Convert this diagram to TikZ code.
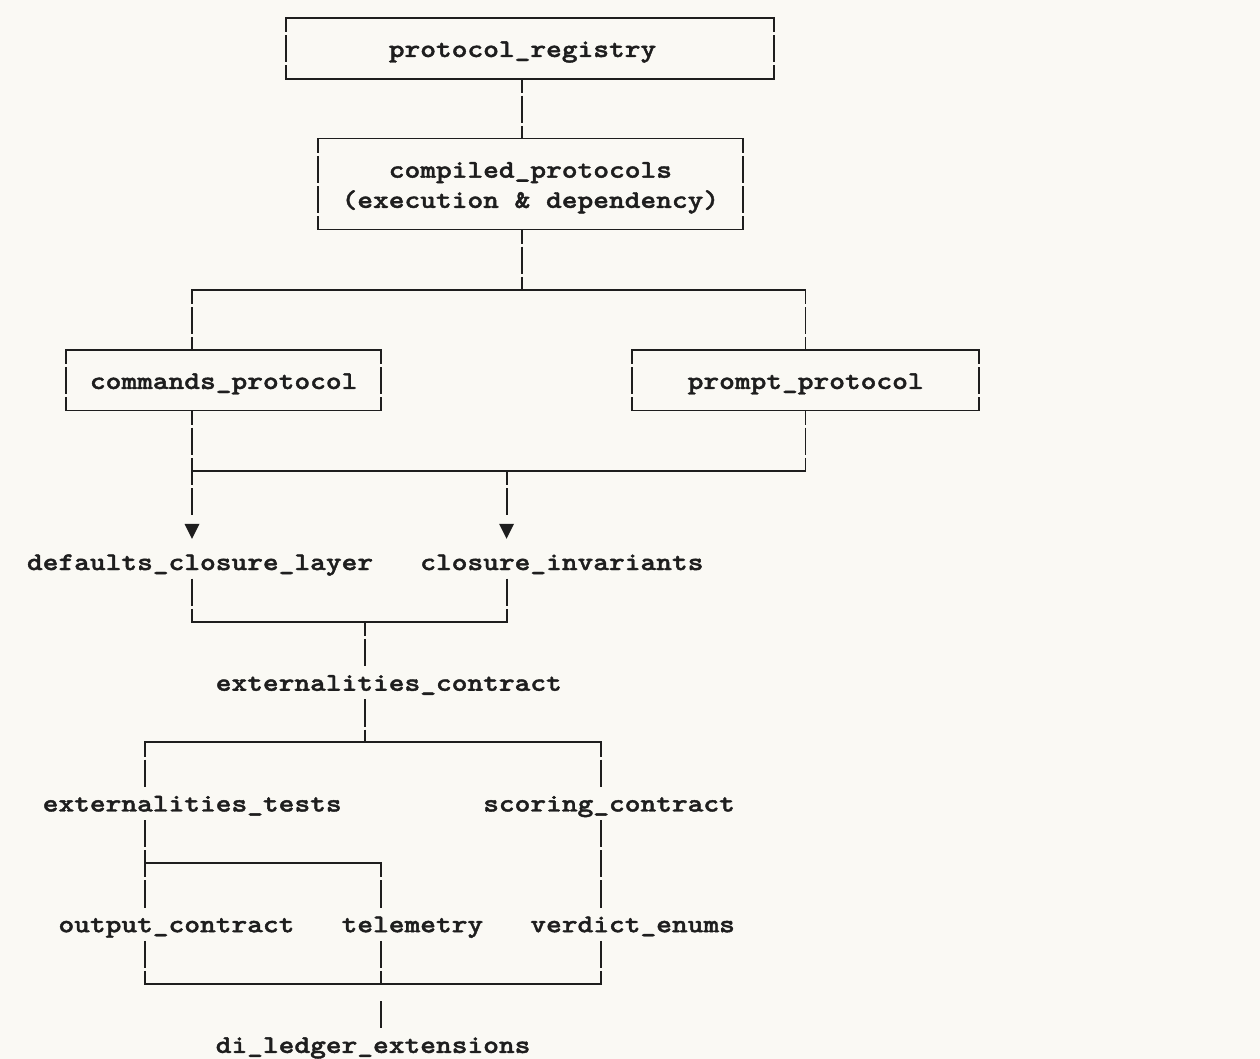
\documentclass[tikz,border=0pt]{standalone}
\usepackage{fontspec}
% slab-serif typewriter face, widened to a 15.73pt character cell
\newfontfamily\gridfont{lmmonolt10-bold.otf}[FakeStretch=1.175, FakeBold=1.6, WordSpace={1,0,0}]
\usetikzlibrary{calc}
\definecolor{paper}{HTML}{FAF9F4}
\definecolor{ink}{HTML}{1E1E1E}
\pgfdeclarelayer{back}
\pgfdeclarelayer{wires}
\pgfsetlayers{back,wires,main}

% character grid: column c, row r (one cell = 15.73 x 30.18)
\tikzset{
  declare function={gx(\c)=18.97+15.73*\c; gl(\c)=11.1+15.73*\c; gy(\r)=18.0+30.18*\r;},
  wire/.style={draw=ink, line width=1.9pt},
  hwire/.style={wire, line cap=rect},
  vwire/.style={wire, dash pattern=on 27.18pt off 3pt, dash phase=12.79pt},
  vwirecell/.style={wire, dash pattern=on 27.18pt off 3pt, dash phase=0pt},
  label/.style={font=\gridfont\fontsize{25.5}{30}\selectfont, text=ink,
    fill=paper, inner sep=0pt, text height=23.89pt, text depth=6.29pt, anchor=west},
  frame/.style={rectangle, inner sep=0pt},
  tipcell/.style={rectangle, fill=paper, inner sep=0pt, minimum width=15.73pt, minimum height=30.18pt},
}

\newcommand\boxoutline[1]{%
  \draw[hwire] (#1.north west) -- (#1.north east);
  \draw[hwire] (#1.south west) -- (#1.south east);
  \draw[vwire] (#1.north west) -- (#1.south west);
  \draw[vwire] (#1.north east) -- (#1.south east);}
\newcommand\tipmark[1]{%
  \fill[ink] ([shift={(-7.5pt,7.3pt)}]#1.center) -- ([shift={(7.5pt,7.3pt)}]#1.center)
    -- ([shift={(0pt,-7.7pt)}]#1.center) -- cycle;}

\begin{document}
\begin{tikzpicture}[x=1pt,y=-1pt]
\begin{pgfonlayer}{back}
  \fill[paper] (0,0) rectangle (1260,1059);
\end{pgfonlayer}
\useasboundingbox (0,0) rectangle (1260,1059);

% boxes
\node[frame, minimum width=487.63pt, minimum height=60.36pt] (b1) at ({(gx(17)+gx(48))/2},{gy(1)}) {};
\node[frame, minimum width=424.71pt, minimum height=90.54pt] (b2) at ({(gx(19)+gx(46))/2},{gy(5.5)}) {};
\node[frame, minimum width=314.60pt, minimum height=60.36pt] (b3) at ({(gx(3)+gx(23))/2},{gy(12)}) {};
\node[frame, minimum width=346.06pt, minimum height=60.36pt] (b4) at ({(gx(39)+gx(61))/2},{gy(12)}) {};

% labels
\node[label] (reg) at ({gl(24)},{gy(1)}) {protocol\_registry};
\node[label] (cp1) at ({gl(24)},{gy(5)}) {compiled\_protocols};
\node[label] (cp2) at ({gl(21)},{gy(6)}) {(execution \& dependency)};
\node[label] (cmd) at ({gl(5)},{gy(12)}) {commands\_protocol};
\node[label] (prm) at ({gl(43)},{gy(12)}) {prompt\_protocol};
\node[label] (dcl) at ({gl(1)},{gy(18)}) {defaults\_closure\_layer};
\node[label] (ci)  at ({gl(26)},{gy(18)}) {closure\_invariants};
\node[label] (ec)  at ({gl(13)},{gy(22)}) {externalities\_contract};
\node[label] (et)  at ({gl(2)},{gy(26)}) {externalities\_tests};
\node[label] (sc)  at ({gl(30)},{gy(26)}) {scoring\_contract};
\node[label] (oc)  at ({gl(3)},{gy(30)}) {output\_contract};
\node[label] (tel) at ({gl(21)},{gy(30)}) {telemetry};
\node[label] (ve)  at ({gl(33)},{gy(30)}) {verdict\_enums};
\node[label] (dl)  at ({gl(13)},{gy(34)}) {di\_ledger\_extensions};

% arrow heads
\node[tipcell] (tip1) at ({gx(11)},{gy(17)}) {};
\node[tipcell] (tip2) at ({gx(31)},{gy(17)}) {};
\tipmark{tip1}
\tipmark{tip2}

% junctions
\coordinate (j2)   at ({gx(32)},{gy(2)});
\coordinate (j4)   at ({gx(32)},{gy(4)});
\coordinate (j7)   at ({gx(32)},{gy(7)});
\coordinate (j9)   at ({gx(32)},{gy(9)});
\coordinate (h9l)  at ({gx(11)},{gy(9)});
\coordinate (h9r)  at ({gx(50)},{gy(9)});
\coordinate (t3)   at ({gx(11)},{gy(11)});
\coordinate (t4)   at ({gx(50)},{gy(11)});
\coordinate (u3)   at ({gx(11)},{gy(13)});
\coordinate (u4)   at ({gx(50)},{gy(13)});
\coordinate (h15l) at ({gx(11)},{gy(15)});
\coordinate (h15m) at ({gx(31)},{gy(15)});
\coordinate (h15r) at ({gx(50)},{gy(15)});
\coordinate (h20l) at ({gx(11)},{gy(20)});
\coordinate (h20m) at ({gx(22)},{gy(20)});
\coordinate (h20r) at ({gx(31)},{gy(20)});
\coordinate (h24l) at ({gx(8)},{gy(24)});
\coordinate (h24m) at ({gx(22)},{gy(24)});
\coordinate (h24r) at ({gx(37)},{gy(24)});
\coordinate (h28l) at ({gx(8)},{gy(28)});
\coordinate (h28r) at ({gx(23)},{gy(28)});
\coordinate (h32l) at ({gx(8)},{gy(32)});
\coordinate (h32m) at ({gx(23)},{gy(32)});
\coordinate (h32r) at ({gx(37)},{gy(32)});
\coordinate (dls)  at ({gx(23)},{gy(32.5)+2.3});

\begin{pgfonlayer}{wires}
  \boxoutline{b1}
  \boxoutline{b2}
  \boxoutline{b3}
  \boxoutline{b4}

  % registry -> compiled -> split
  \draw[vwire] (j2) -- (j4);
  \draw[vwire] (j7) -- (j9);
  \draw[hwire] (h9l) -- (h9r);
  \draw[vwire] (h9l) -- (t3);
  \draw[vwire] (h9r) -- (t4);

  % protocols -> closure layer
  \draw[vwire] (u3) -- (tip1.center);
  \draw[vwire] (u4) -- (h15r);
  \draw[hwire] (h15l) -- (h15r);
  \draw[vwire] (h15m) -- (tip2.center);

  % closure -> externalities_contract
  \draw[vwire] (h20l |- dcl.center) -- (h20l);
  \draw[vwire] (h20r |- ci.center) -- (h20r);
  \draw[hwire] (h20l) -- (h20r);
  \draw[vwire] (h20m) -- (h20m |- ec.center);

  % externalities_contract -> tests / scoring
  \draw[vwire] (h24m |- ec.center) -- (h24m);
  \draw[hwire] (h24l) -- (h24r);
  \draw[vwire] (h24l) -- (h24l |- et.center);
  \draw[vwire] (h24r) -- (h24r |- sc.center);

  % tests -> output / telemetry, scoring -> verdict
  \draw[vwire] (h28l |- et.center) -- (h28l |- oc.center);
  \draw[hwire] (h28l) -- (h28r);
  \draw[vwire] (h28r) -- (h28r |- tel.center);
  \draw[vwire] (h32r |- sc.center) -- (h32r |- ve.center);

  % join -> di_ledger_extensions
  \draw[vwire] (h32l |- oc.center) -- (h32l);
  \draw[vwire] (h32m |- tel.center) -- (h32m);
  \draw[vwire] (h32r |- ve.center) -- (h32r);
  \draw[hwire] (h32l) -- (h32r);
  \draw[vwirecell] (dls) -- (h32m |- dl.center);
\end{pgfonlayer}
\end{tikzpicture}
\end{document}
